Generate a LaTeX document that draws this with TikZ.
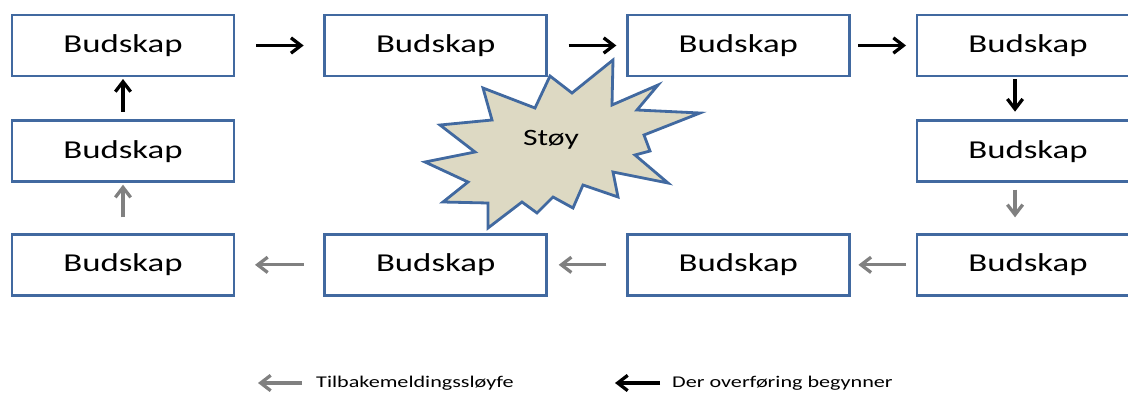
\documentclass[tikz,border=0pt]{standalone}
\usepackage{fontspec}
\setmainfont{Carlito}[FakeStretch=1.35]
\usepackage{tikz}
\usetikzlibrary{arrows.meta, positioning}
\definecolor{boxblue}{RGB}{65,105,160}
\definecolor{noisefill}{RGB}{221,217,195}
\definecolor{loopgray}{RGB}{128,128,128}

\begin{document}
\begin{tikzpicture}[x=0.03cm, y=-0.03cm,
    budbox/.style={rectangle, draw=boxblue, line width=2.2pt, fill=white, minimum width=6.66cm, minimum height=1.83cm, inner sep=0pt, outer sep=0pt, font=\fontsize{22}{26}\selectfont},
    sendarr/.style={-{Straight Barb[length=3mm, width=4.6mm]}, line width=2.8pt, black},
    looparr/.style={-{Straight Barb[length=3mm, width=4.6mm]}, line width=2.8pt, loopgray},
    legtext/.style={anchor=west, inner sep=0pt, font=\fontsize{14}{16}\selectfont}]
    \useasboundingbox (0,0) rectangle (1128,394);
    \clip (0,0) rectangle (1128,394);
    % Row 1: sending
    \node[budbox] at (123,45.5) (b1) {Budskap};
    \node[budbox, right=2.72cm of b1] (b2) {Budskap};
    \node[budbox, right=2.42cm of b2] (b3) {Budskap};
    \node[budbox, right=2.03cm of b3] (b4) {Budskap};
    % Column 4 and row 3: feedback
    \node[budbox, below=1.34cm of b4] (b5) {Budskap};
    \node[budbox, below=1.34cm of b1] (b10) {Budskap};
    \node[budbox, below=1.58cm of b10] (b9) {Budskap};
    \node[budbox, right=2.72cm of b9] (b8) {Budskap};
    \node[budbox, right=2.42cm of b8] (b7) {Budskap};
    \node[budbox, right=2.03cm of b7] (b6) {Budskap};
    % Noise
    \draw[boxblue, line width=2.4pt, fill=noisefill, line join=miter]
      (550,76) -- (572,93) -- (613,60) -- (612,105) -- (658,85) -- (637,110)
      -- (700,113) -- (644,135) -- (650,151) -- (635,155) -- (668,183)
      -- (613,172) -- (618,197) -- (583,185) -- (573,208) -- (553,197)
      -- (537,213) -- (522,202) -- (488,228) -- (488,203) -- (443,202)
      -- (468,182) -- (425,162) -- (475,152) -- (440,125) -- (492,120)
      -- (483,88) -- (535,108) -- cycle;
    \node[font=\fontsize{20}{24}\selectfont] at (551,140) (stoy) {Støy};
    % Arrows
    \draw[sendarr, shorten <=0.66cm, shorten >=0.63cm] (b1) -- (b2);
    \draw[sendarr, shorten <=0.66cm, shorten >=0.33cm] (b2) -- (b3);
    \draw[sendarr, shorten <=0.27cm, shorten >=0.33cm] (b3) -- (b4);
    \draw[sendarr, shorten <=0.09cm, shorten >=0.27cm] ([xshift=-0.39cm]b4.south) -- ([xshift=-0.39cm]b5.north);
    \draw[looparr, shorten <=0.24cm, shorten >=0.51cm] ([xshift=-0.39cm]b5.south) -- ([xshift=-0.39cm]b6.north);
    \draw[looparr, shorten <=0.33cm, shorten >=0.27cm] (b6) -- (b7);
    \draw[looparr, shorten <=0.63cm, shorten >=0.36cm] (b7) -- (b8);
    \draw[looparr, shorten <=0.63cm, shorten >=0.63cm] (b8) -- (b9);
    \draw[looparr, shorten <=0.51cm, shorten >=0.09cm] (b9) -- (b10);
    \draw[sendarr, shorten <=0.27cm, shorten >=0.09cm] (b10) -- (b1);
    % Legend
    \node[legtext] at (316,383) (leg1) {Tilbakemeldingssløyfe};
    \node[legtext] at (672,383) (leg2) {Der overføring begynner};
    \coordinate[left=0.42cm of leg1] (g1s);
    \coordinate[left=1.74cm of leg1] (g1e);
    \coordinate[left=0.36cm of leg2] (g2s);
    \coordinate[left=1.71cm of leg2] (g2e);
    \draw[looparr] (g1s) -- (g1e);
    \draw[sendarr] (g2s) -- (g2e);
\end{tikzpicture}
\end{document}
